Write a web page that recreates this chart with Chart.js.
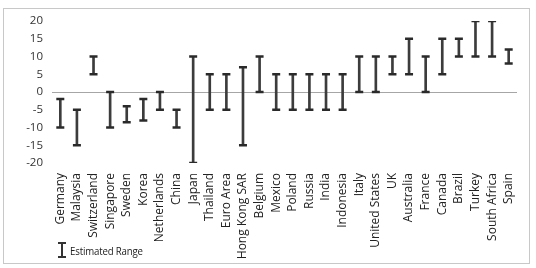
<!DOCTYPE html>
<html>
<head>
<meta charset="utf-8">
<script src="https://cdn.jsdelivr.net/npm/chart.js@4/dist/chart.umd.min.js"></script>
<style>
  html, body { margin: 0; padding: 0; background: #fff; }
  body { width: 536px; height: 268px; position: relative; overflow: hidden; }
  #frame { position: absolute; left: 3px; top: 8px; width: 527px; height: 256px; border: 1px solid #c8c8c8; box-sizing: border-box; }
  #wrap { position: absolute; left: 0; top: 0; width: 536px; height: 268px; }
  #legend { position: absolute; left: 58px; top: 242px; height: 16px; font-family: "Open Sans", sans-serif; font-size: 11.5px; color: #222; }
  .cap { position: absolute; left: 0; width: 8px; height: 2px; background: #333; }
  .stem { position: absolute; left: 3px; top: 0; width: 2px; height: 16px; background: #333; }
  #legtext { position: absolute; left: 12px; top: 0; line-height: 17px; white-space: nowrap; letter-spacing: -0.2px; transform: scaleX(0.84); transform-origin: 0 50%; }
</style>
</head>
<body>
<div id="frame"></div>
<div id="wrap"><canvas id="c" width="536" height="268"></canvas></div>
<div id="legend">
  <div class="cap" style="top:0"></div>
  <div class="stem"></div>
  <div class="cap" style="top:14px"></div>
  <div id="legtext">Estimated Range</div>
</div>
<script>
const categories = ["Germany","Malaysia","Switzerland","Singapore","Sweden","Korea","Netherlands","China","Japan","Thailand","Euro Area","Hong Kong SAR","Belgium","Mexico","Poland","Russia","India","Indonesia","Italy","United States","UK","Australia","France","Canada","Brazil","Turkey","South Africa","Spain"];
const lowValues  = [-10,-15, 5,-10,-8.5,-8,-5,-10,-20,-5,-5,-15, 0,-5,-5,-5,-5,-5, 0, 0, 5, 5, 0, 5,10,10,10, 8];
const highValues = [ -2, -5,10,  0,-4, -2, 0, -5, 10, 5, 5,  7,10, 5, 5, 5, 5, 5,10,10,10,15,10,15,15,20,20,12];
const yTicks = { min: -20, max: 20, step: 5 };
const legendLabel = "Estimated Range";

const ranges = lowValues.map((lo, i) => [lo, highValues[i]]);
const fontFamily = '"Open Sans", sans-serif';

new Chart(document.getElementById('c'), {
  type: 'bar',
  data: {
    labels: categories,
    datasets: [
      { type: 'bar', label: legendLabel, data: ranges, backgroundColor: '#3c3c3c', barThickness: 2, grouped: false, order: 2 },
      { type: 'line', label: 'low', data: lowValues, showLine: false, pointStyle: 'line', pointRadius: 4, pointHoverRadius: 4, pointBorderWidth: 2.5, borderColor: '#2a2a2a', backgroundColor: '#2a2a2a', order: 1 },
      { type: 'line', label: 'high', data: highValues, showLine: false, pointStyle: 'line', pointRadius: 4, pointHoverRadius: 4, pointBorderWidth: 2.5, borderColor: '#2a2a2a', backgroundColor: '#2a2a2a', order: 1 }
    ]
  },
  options: {
    responsive: false,
    animation: false,
    events: [],
    layout: { padding: { left: 0, top: 21, right: 19, bottom: 0 } },
    plugins: { legend: { display: false }, tooltip: { enabled: false } },
    scales: {
      x: {
        offset: true,
        grid: { display: false, drawTicks: false },
        border: { display: false },
        ticks: { autoSkip: false, minRotation: 90, maxRotation: 90, padding: 10, color: '#222', font: { family: fontFamily, size: 12 } },
        afterFit: (s) => { s.height = 105; }
      },
      y: {
        min: yTicks.min, max: yTicks.max,
        grid: { drawTicks: false, color: (ctx) => ctx.tick && ctx.tick.value === 0 ? '#a6a6a6' : 'rgba(0,0,0,0)', lineWidth: 1 },
        border: { display: false },
        ticks: { stepSize: yTicks.step, padding: 9, color: '#333', font: { family: fontFamily, size: 11.5 } },
        afterFit: (s) => { s.width = 52; }
      }
    }
  }
});
</script>
</body>
</html>
